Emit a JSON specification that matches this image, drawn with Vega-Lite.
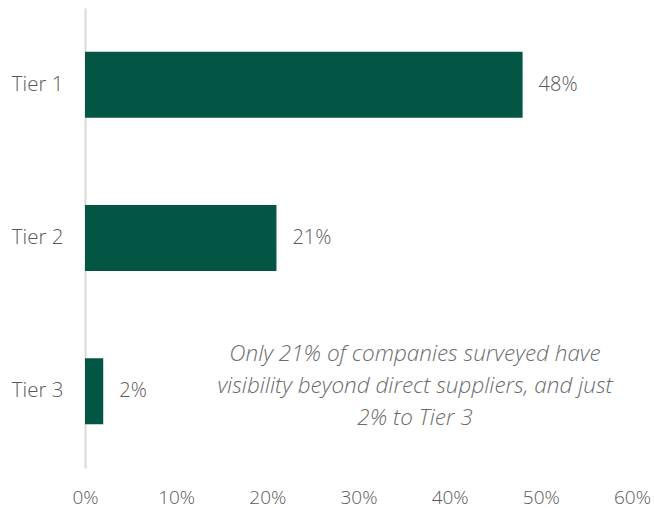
{
  "$schema": "https://vega.github.io/schema/vega-lite/v6.json",
  "width": 547,
  "height": 460,
  "autosize": {"type": "none"},
  "padding": {"left": 85, "top": 8, "right": 22, "bottom": 40},
  "background": "white",
  "config": {"view": {"stroke": null}, "font": "Open Sans"},
  "datasets": {
    "bars": [
      {"tier": "Tier 1", "share": 0.48},
      {"tier": "Tier 2", "share": 0.21},
      {"tier": "Tier 3", "share": 0.02}
    ],
    "note": [
      {"tier": "Tier 3", "x": 0.362, "text": ["Only 21% of companies surveyed have", "visibility beyond direct suppliers, and just", "2% to Tier 3"]}
    ]
  },
  "layer": [
    {
      "data": {"name": "bars"},
      "mark": {"type": "bar", "color": "#035644"},
      "encoding": {
        "y": {
          "field": "tier", "type": "nominal", "sort": null,
          "scale": {"paddingInner": 0.57, "paddingOuter": 0.285},
          "axis": {
            "title": null, "ticks": false, "labelPadding": 22,
            "labelFontSize": 20.5, "labelColor": "#595959", "labelFontWeight": 300,
            "domainColor": "#d9d9d9", "domainWidth": 2
          }
        },
        "x": {
          "field": "share", "type": "quantitative",
          "scale": {"domain": [0, 0.6]},
          "axis": {
            "title": null, "format": ".0%", "values": [0, 0.1, 0.2, 0.3, 0.4, 0.5, 0.6],
            "grid": false, "ticks": false, "domain": false, "labelPadding": 20,
            "labelFontSize": 19, "labelColor": "#595959", "labelFontWeight": 300,
            "labelFlush": false
          }
        }
      }
    },
    {
      "data": {"name": "bars"},
      "mark": {"type": "text", "align": "left", "baseline": "middle", "dx": 16, "fontSize": 20, "fontWeight": 300, "color": "#595959"},
      "encoding": {
        "y": {"field": "tier", "type": "nominal", "sort": null},
        "x": {"field": "share", "type": "quantitative"},
        "text": {"field": "share", "type": "quantitative", "format": ".0%"}
      }
    },
    {
      "data": {"name": "note"},
      "mark": {"type": "text", "align": "center", "baseline": "middle", "dy": -37, "fontSize": 22.5, "fontStyle": "italic", "fontWeight": 300, "lineHeight": 32, "color": "#6b6b6b"},
      "encoding": {
        "y": {"field": "tier", "type": "nominal", "sort": null},
        "x": {"field": "x", "type": "quantitative"},
        "text": {"field": "text"}
      }
    }
  ]
}
